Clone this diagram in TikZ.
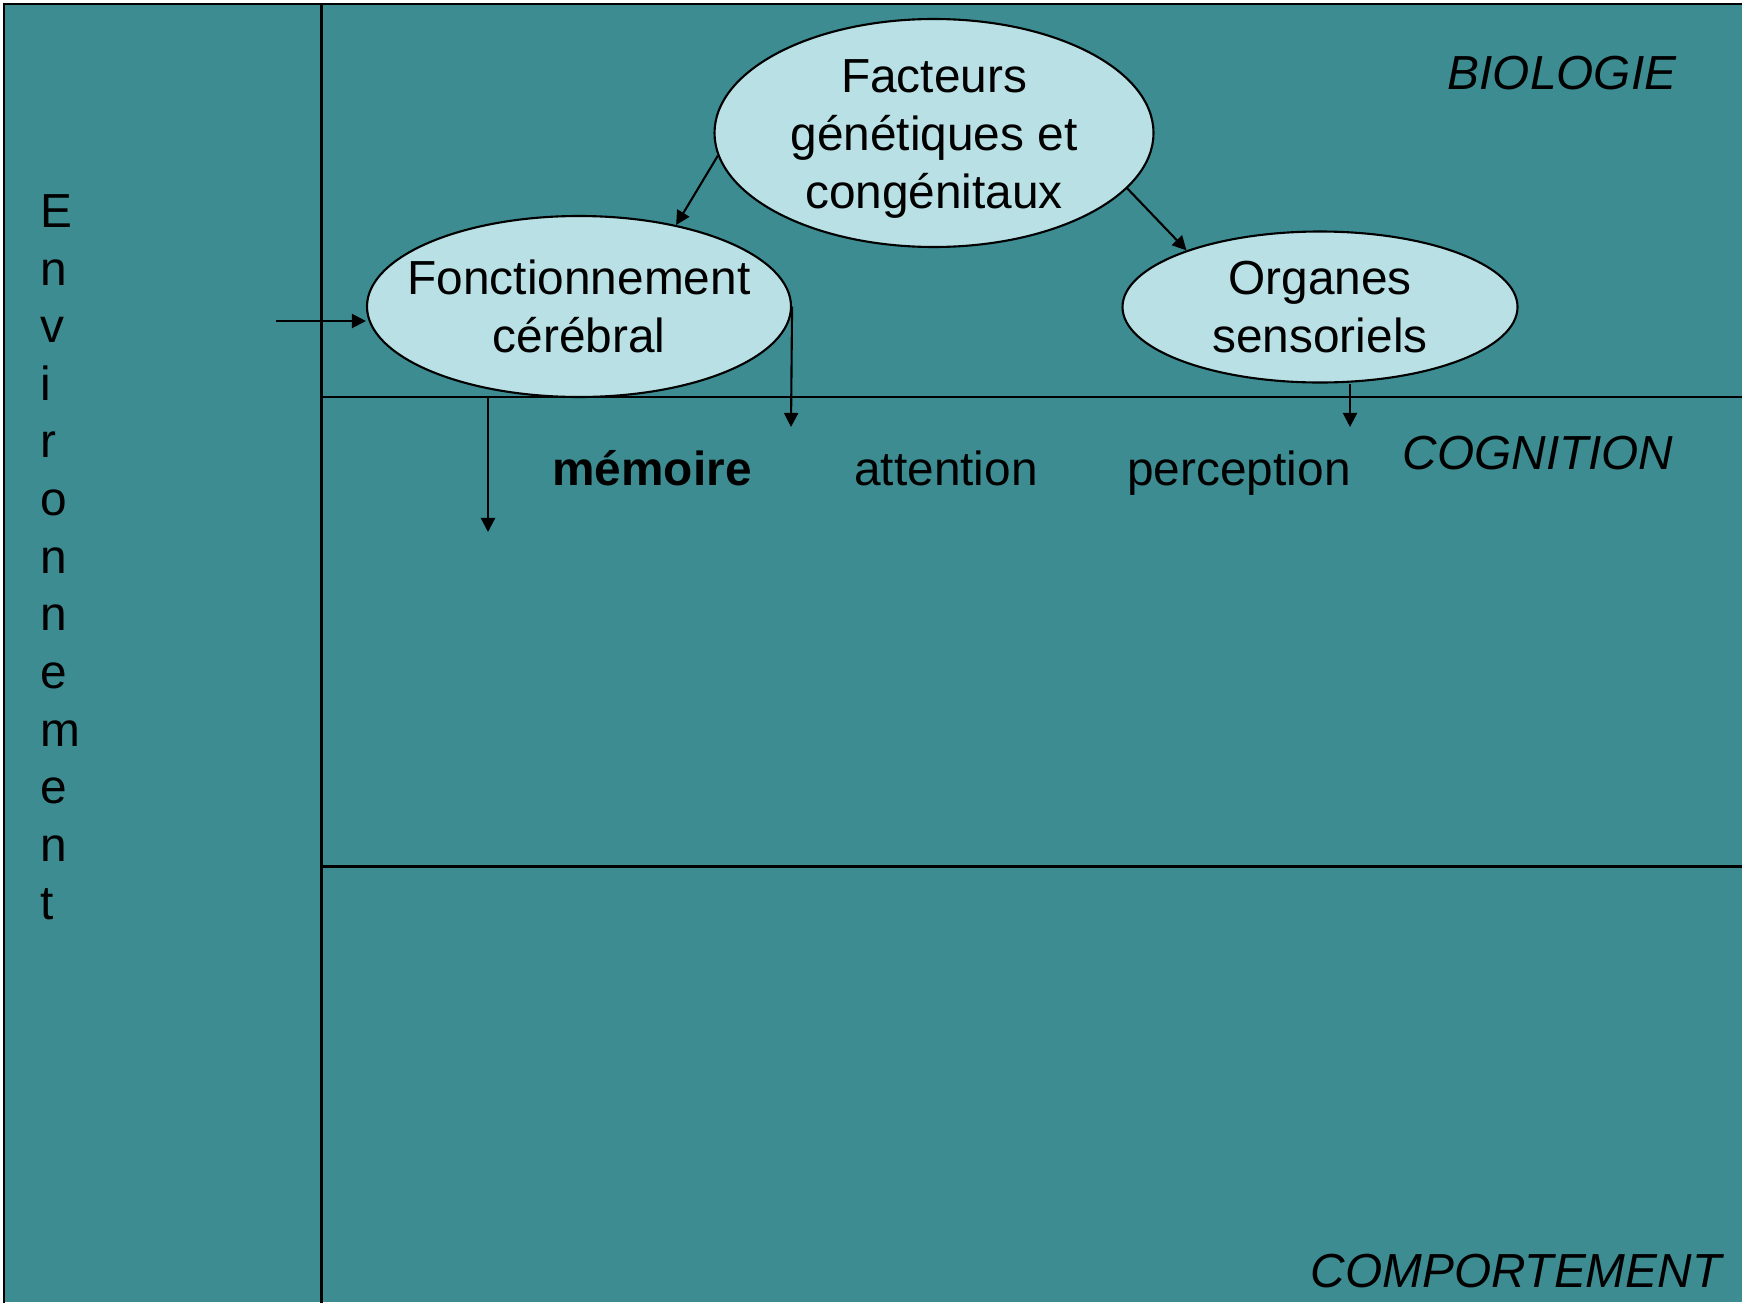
\documentclass[tikz,border=0pt]{standalone}
\usepackage{fontspec}
\setmainfont{Liberation Sans}
\usetikzlibrary{arrows.meta,positioning,shapes.geometric,calc}
\definecolor{fondbleu}{RGB}{61,140,146}
\definecolor{bullecol}{RGB}{185,224,228}

\begin{document}
\begin{tikzpicture}[
  font=\fontsize{13.6}{16.4}\selectfont,
  bulle/.style={ellipse, draw, fill=bullecol, line width=0.6pt, inner sep=0pt},
  txt/.style={align=center, inner sep=0pt},
  domaine/.style={font=\fontsize{13.6}{16.4}\selectfont\itshape, anchor=base},
  trait/.style={line width=0.85pt},
  arrow/.style={-{Triangle[length=4pt,width=4pt]}, line width=0.6pt}
]

\useasboundingbox (0,0) rectangle (17.42,-13.02);
\fill[white] (0,0) rectangle (17.42,-13.02);
\fill[fondbleu] (0.04,-0.04) rectangle (17.42,-13.02);
\draw[trait] (0.04,-13.2) |- (17.6,-0.04);
\draw[trait] (3.21,-0.04) -- (3.21,-13.2);
\draw[trait] (3.21,-3.97) -- (17.6,-3.97);
\draw[trait] (3.21,-8.66) -- (17.6,-8.66);

\node[bulle, minimum width=4.39cm, minimum height=2.28cm] (facteurs) at (9.34,-1.33) {};
\node[txt] at ([yshift=-0.06cm]facteurs.center) {Facteurs\\génétiques et\\congénitaux};
\node[bulle, minimum width=4.24cm, minimum height=1.81cm] (fonct) at (5.79,-3.065) {};
\node[txt] at (fonct.center) {Fonctionnement\\cérébral};
\node[bulle, minimum width=3.95cm, minimum height=1.51cm] (organes) at (13.20,-3.07) {};
\node[txt] at (organes.center) {Organes\\sensoriels};

\node[anchor=base, font=\fontsize{13.6}{16.4}\selectfont\bfseries] (memoire) at (6.52,-4.85) {mémoire};
\node[anchor=base] (attention) at (9.46,-4.85) {attention};
\node[anchor=base] (perception) at (12.39,-4.85) {perception};

\node[domaine] (biologie) at (15.62,-0.90) {BIOLOGIE};
\node[domaine] (cognition) at (15.38,-4.69) {COGNITION};
\node[domaine] (comportement) at (15.16,-12.87) {COMPORTEMENT};

\node[align=left, inner sep=0pt, anchor=west] (environnement) at (0.40,-5.57)
  {E\\n\\v\\i\\r\\o\\n\\n\\e\\m\\e\\n\\t};

\coordinate (envsrc) at (2.76,-3.21);
\coordinate (memsrc) at (4.88,-3.97);
\coordinate (memdst) at (4.88,-5.32);
\coordinate (fcdst) at (7.91,-4.27);
\coordinate (orgdst) at (13.50,-4.27);

\draw[arrow] (facteurs.186) -- (fonct.40);
\draw[arrow] (facteurs.344) -- (organes.157);
\draw[arrow] (envsrc) -- (envsrc -| fonct.west);
\draw[arrow] (fonct.east) -- (fcdst);
\draw[arrow] (memsrc) -- (memdst);
\draw[arrow] (orgdst |- organes.south) -- (orgdst);

\end{tikzpicture}
\end{document}
